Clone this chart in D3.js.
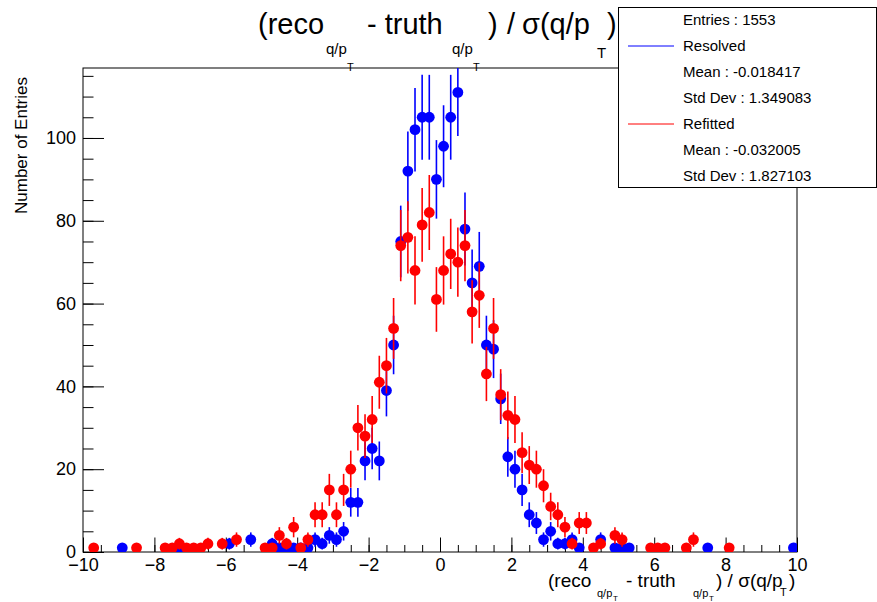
<!DOCTYPE html>
<meta charset="utf-8">
<script src="https://d3js.org/d3.v7.min.js"></script>
<style>
body { margin: 0; background: #fff; }
text { font-family: "Liberation Sans", Helvetica, Arial, sans-serif; fill: #000; }
</style>
<div id="chart"></div>
<script>
// histogram binning: 100 bins from -10 to 10
const xMin = -10, xMax = 10, nBins = 100;

// bin contents
const resolved = [
  0,0,0,0,0,1,0,0,0,0,
  0,0,0,1,0,0,0,0,0,0,
  2,0,0,3,0,0,2,1,1,1,
  1,1,3,2,4,3,5,12,12,22,
  25,22,39,50,75,92,102,105,105,90,
  98,105,111,78,65,69,50,49,37,23,
  20,15,9,7,3,5,2,2,3,1,
  0,0,3,0,1,1,1,0,0,0,
  0,0,0,0,0,0,0,1,0,0,
  0,0,0,0,0,0,0,0,0,1
];
const refitted = [
  0,1,0,0,0,0,0,1,0,0,
  0,1,1,2,1,1,1,2,0,2,
  0,3,0,0,0,1,1,4,2,6,
  1,3,9,9,15,9,15,20,30,28,
  32,41,45,54,74,76,68,79,82,61,
  68,72,70,74,58,62,43,54,38,33,
  32,24,21,20,16,11,9,6,2,7,
  7,1,2,0,4,3,0,0,0,1,
  1,1,0,0,1,3,0,0,0,0,
  1,0,0,0,0,0,0,0,0,0
];

const xTicks = [-10, -8, -6, -4, -2, 0, 2, 4, 6, 8, 10];
const yTicks = [0, 20, 40, 60, 80, 100];
const yMax = 116.9;

const series = [
  {name: "Resolved", counts: resolved, color: "#0000ff"},
  {name: "Refitted", counts: refitted, color: "#ff0000"}
];
const statLines = [
  {text: "Entries : 1553"},
  {text: "Resolved", line: "#0000ff"},
  {text: "Mean : -0.018417"},
  {text: "Std Dev : 1.349083"},
  {text: "Refitted", line: "#ff0000"},
  {text: "Mean : -0.032005"},
  {text: "Std Dev : 1.827103"}
];

const margin = {top: 68, right: 80, bottom: 50, left: 83},
    width = 877 - margin.left - margin.right,
    height = 602 - margin.top - margin.bottom;

const root = d3.select("#chart")
  .append("svg")
    .attr("width", 877)
    .attr("height", 602);
root.append("rect").attr("width", 877).attr("height", 602).attr("fill", "#fff");

const svg = root.append("g")
    .attr("transform", `translate(${margin.left},${margin.top})`);

const x = d3.scaleLinear().domain([xMin, xMax]).range([0, width]);
const y = d3.scaleLinear().domain([0, yMax]).range([height, 0]);
const binW = (xMax - xMin) / nBins;

svg.append("clipPath").attr("id", "frameClip")
  .append("rect").attr("width", width).attr("height", height);

// minor ticks
svg.append("g")
    .attr("transform", `translate(0,${height})`)
    .call(d3.axisBottom(x).tickValues(d3.range(xMin, xMax + 0.01, 0.5)).tickSize(-7).tickSizeOuter(0).tickFormat(""))
    .call(g => g.select(".domain").remove());
svg.append("g")
    .call(d3.axisLeft(y).tickValues(d3.range(0, yMax, 5)).tickSize(-10.5).tickSizeOuter(0).tickFormat(""))
    .call(g => g.select(".domain").remove());

// major ticks + labels
svg.append("g")
    .attr("transform", `translate(0,${height})`)
    .call(d3.axisBottom(x).tickValues(xTicks).tickSize(-14.5).tickSizeOuter(0).tickPadding(6))
    .call(g => g.select(".domain").remove())
    .call(g => g.selectAll("text").style("font-size", "18px").attr("fill", "#000"));
svg.append("g")
    .call(d3.axisLeft(y).tickValues(yTicks).tickSize(-21).tickSizeOuter(0).tickPadding(7))
    .call(g => g.select(".domain").remove())
    .call(g => g.selectAll("text").style("font-size", "18px").attr("fill", "#000"));

svg.selectAll(".tick line").attr("stroke", "#000");

// frame
svg.append("rect")
    .attr("width", width).attr("height", height)
    .attr("fill", "none").attr("stroke", "#000").attr("stroke-width", 1);

// points with sqrt(N) error bars
series.forEach(s => {
  const pts = s.counts
    .map((c, i) => ({xc: xMin + binW * (i + 0.5), n: c}))
    .filter(d => d.n > 0);
  const g = svg.append("g").attr("clip-path", "url(#frameClip)");
  g.selectAll("line")
    .data(pts)
    .join("line")
      .attr("x1", d => x(d.xc)).attr("x2", d => x(d.xc))
      .attr("y1", d => y(d.n - Math.sqrt(d.n)))
      .attr("y2", d => y(d.n + Math.sqrt(d.n)))
      .attr("stroke", s.color)
      .attr("stroke-width", 1.6);
  g.selectAll("circle")
    .data(pts)
    .join("circle")
      .attr("cx", d => x(d.xc))
      .attr("cy", d => y(d.n))
      .attr("r", 5.4)
      .attr("fill", s.color);
});

// text with sub/superscript pieces
function richText(parent, pieces) {
  const t = parent.append("text");
  pieces.forEach(p => {
    t.append("tspan")
      .attr("x", p.x).attr("y", p.y)
      .style("font-size", p.size + "px")
      .text(p.s);
  });
  return t;
}

// title
richText(root, [
  {s: "(reco", x: 258, y: 34, size: 29},
  {s: "q/p", x: 326, y: 54, size: 15},
  {s: "T", x: 347, y: 71, size: 11},
  {s: "- truth", x: 367, y: 34, size: 29},
  {s: "q/p", x: 452, y: 54, size: 15},
  {s: "T", x: 473, y: 71, size: 11},
  {s: ")", x: 488, y: 34, size: 29},
  {s: "/", x: 507, y: 34, size: 29},
  {s: "σ(q/p", x: 522, y: 34, size: 29},
  {s: "T", x: 597, y: 58, size: 15},
  {s: ")", x: 607, y: 34, size: 29}
]);

// x axis title
richText(root, [
  {s: "(reco", x: 548, y: 587, size: 19},
  {s: "q/p", x: 597, y: 597, size: 11},
  {s: "T", x: 613, y: 601, size: 8},
  {s: "- truth", x: 626, y: 587, size: 19},
  {s: "q/p", x: 693, y: 597, size: 11},
  {s: "T", x: 709, y: 601, size: 8},
  {s: ") / σ(q/p", x: 716, y: 587, size: 19},
  {s: "T", x: 780, y: 596, size: 11},
  {s: ")", x: 789, y: 587, size: 19}
]);

// y axis title
root.append("text")
    .attr("transform", "translate(27,77) rotate(-90)")
    .attr("text-anchor", "end")
    .style("font-size", "17px")
    .text("Number of Entries");

// stats / legend box
const leg = root.append("g");
leg.append("rect")
    .attr("x", 618.5).attr("y", 7.5)
    .attr("width", 258).attr("height", 180)
    .attr("fill", "#fff").attr("stroke", "#000");
statLines.forEach((d, i) => {
  const cy = 20 + i * 26;
  if (d.line) {
    leg.append("line")
      .attr("x1", 628).attr("x2", 674)
      .attr("y1", cy).attr("y2", cy)
      .attr("stroke", d.line).attr("stroke-width", 1);
  }
  leg.append("text")
    .attr("x", 683).attr("y", cy)
    .attr("dy", "0.35em")
    .style("font-size", "15px")
    .text(d.text);
});
</script>
